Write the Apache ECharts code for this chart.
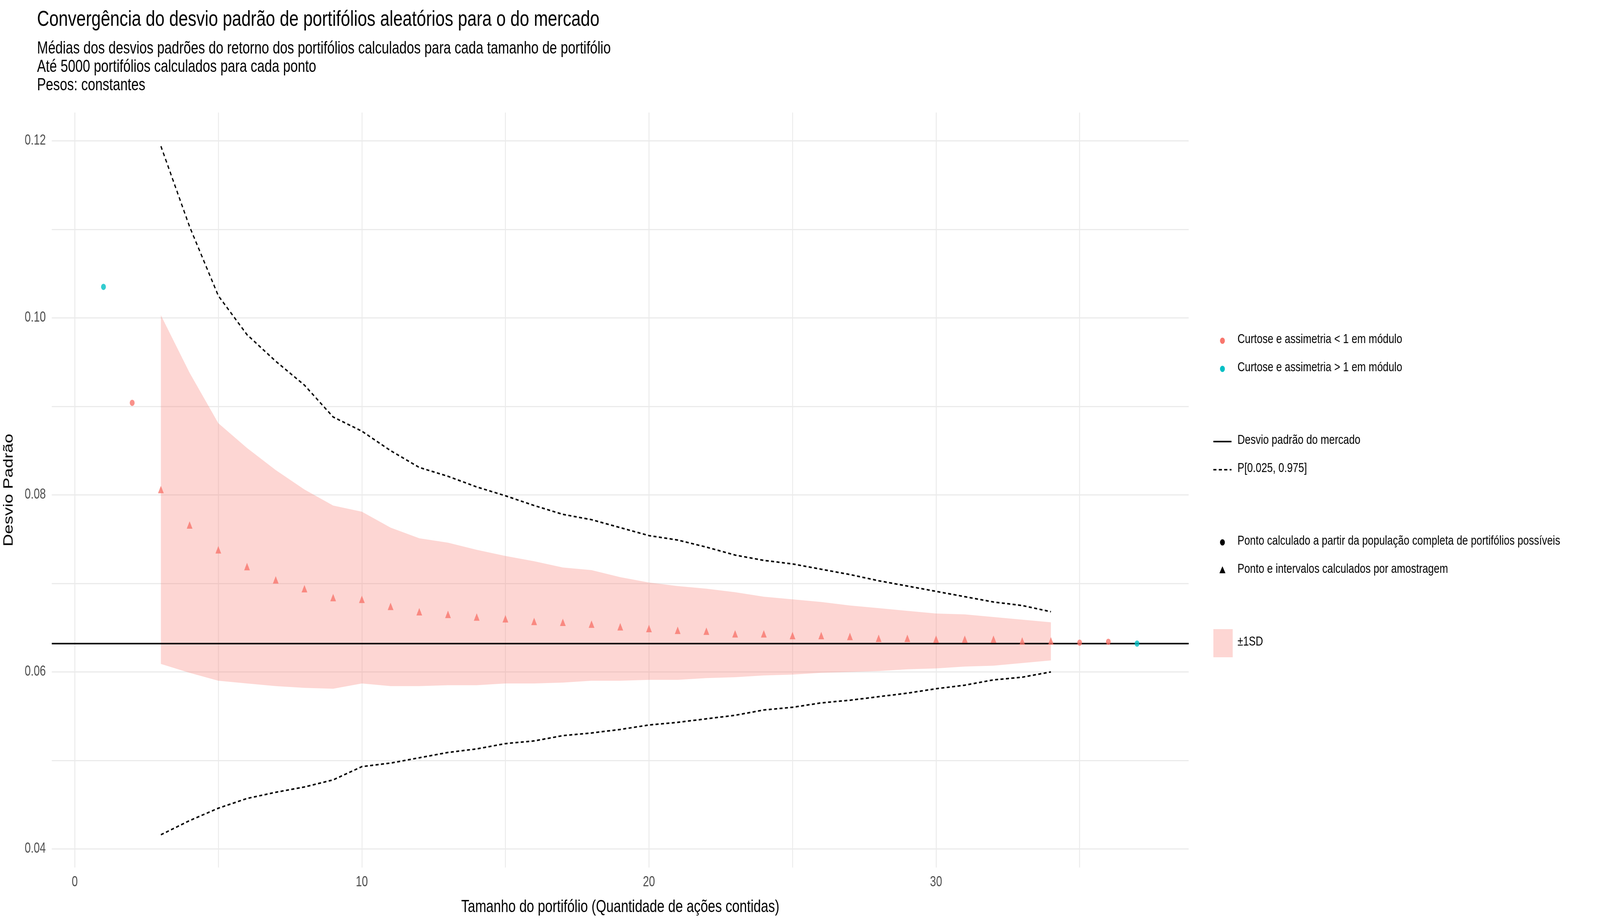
<!DOCTYPE html>
<html><head><meta charset="utf-8">
<script src="https://cdn.jsdelivr.net/npm/echarts@6/dist/echarts.min.js"></script>
<style>html,body{margin:0;padding:0;background:#fff;overflow:hidden}#chart{width:5314px;height:2362px;transform-origin:0 0}</style>
</head><body><div id="chart"></div>
<script>
const fullX = [2, 35, 36];
const fullY = [0.0904, 0.0633, 0.0634];
const fullTealX = [1, 37];
const fullTealY = [0.1035, 0.0632];
const sampX = [3,4,5,6,7,8,9,10,11,12,13,14,15,16,17,18,19,20,21,22,23,24,25,26,27,28,29,30,31,32,33,34];
const sampMean = [0.0806,0.0766,0.0738,0.0719,0.0704,0.0694,0.0684,0.0682,0.0674,0.0668,0.0665,0.0662,0.0660,0.0657,0.0656,0.0654,0.0651,0.0649,0.0647,0.0646,0.0643,0.0643,0.0641,0.0641,0.0640,0.0638,0.0638,0.0637,0.0637,0.0637,0.0635,0.0635];
const sdUpper = [0.1003,0.0938,0.0881,0.0853,0.0828,0.0806,0.0788,0.0781,0.0763,0.0751,0.0746,0.0738,0.0731,0.0725,0.0718,0.0715,0.0707,0.0701,0.0697,0.0694,0.0690,0.0685,0.0682,0.0679,0.0675,0.0672,0.0669,0.0666,0.0665,0.0662,0.0659,0.0656];
const sdLower = [0.0609,0.0599,0.0590,0.0587,0.0584,0.0582,0.0581,0.0587,0.0584,0.0584,0.0585,0.0585,0.0587,0.0587,0.0588,0.0590,0.0590,0.0591,0.0591,0.0593,0.0594,0.0596,0.0597,0.0599,0.0600,0.0601,0.0603,0.0604,0.0606,0.0607,0.0610,0.0613];
const p975 = [0.1194,0.1103,0.1025,0.0981,0.0951,0.0924,0.0888,0.0872,0.0850,0.0831,0.0821,0.0809,0.0799,0.0788,0.0778,0.0772,0.0763,0.0754,0.0749,0.0741,0.0732,0.0726,0.0722,0.0716,0.0710,0.0703,0.0697,0.0691,0.0685,0.0679,0.0675,0.0668];
const p025 = [0.0416,0.0432,0.0446,0.0457,0.0464,0.0470,0.0478,0.0493,0.0497,0.0503,0.0509,0.0513,0.0519,0.0522,0.0528,0.0531,0.0535,0.0540,0.0543,0.0547,0.0551,0.0557,0.0560,0.0565,0.0568,0.0572,0.0576,0.0581,0.0585,0.0591,0.0594,0.0600];
const marketSD = 0.0632;
const xTicks = [0,5,10,15,20,25,30,35];
const xLabels = [0,10,20,30];
const yTicks = [0.04,0.05,0.06,0.07,0.08,0.09,0.10,0.11,0.12];
const yLabels = [0.04,0.06,0.08,0.10,0.12];

const SALMON = '#F8766D', TEAL = '#00BFC4';
const F = 'Liberation Sans, Arial, sans-serif';
const pair = (xs, ys) => xs.map((x, i) => [x, ys[i]]);

// fit the 5314x2362 design into whatever viewport we get
const el = document.getElementById('chart');
const sx = window.innerWidth / 5314, sy = window.innerHeight / 2362;
el.style.transform = `scale(${sx}, ${sy})`;

const chart = echarts.init(el, null, { renderer: 'canvas', width: 5314, height: 2362 });

// legend drawn as graphics
const LX = 4030;
const legend = [];
function legText(y, t) { legend.push({ type: 'text', left: LX + 80, top: y - 20, style: { text: t, fontSize: 34, fontFamily: F, fill: '#000' } }); }
function legDot(y, c) { legend.push({ type: 'circle', shape: { cx: LX + 30, cy: y, r: 8 }, style: { fill: c } }); }
legDot(872, SALMON); legText(872, 'Curtose e assimetria < 1 em módulo');
legDot(944, TEAL); legText(944, 'Curtose e assimetria > 1 em módulo');
legend.push({ type: 'line', shape: { x1: LX, y1: 1130, x2: LX + 60, y2: 1130 }, style: { stroke: '#000', lineWidth: 4 } });
legText(1130, 'Desvio padrão do mercado');
legend.push({ type: 'line', shape: { x1: LX, y1: 1202, x2: LX + 60, y2: 1202 }, style: { stroke: '#000', lineWidth: 4, lineDash: [10, 8] } });
legText(1202, 'P[0.025, 0.975]');
legend.push({ type: 'circle', shape: { cx: LX + 30, cy: 1388, r: 8 }, style: { fill: '#000' } });
legText(1388, 'Ponto calculado a partir da população completa de portifólios possíveis');
legend.push({ type: 'polygon', shape: { points: [[LX + 30, 1449], [LX + 40, 1467], [LX + 20, 1467]] }, style: { fill: '#000' } });
legText(1460, 'Ponto e intervalos calculados por amostragem');
legend.push({ type: 'rect', shape: { x: LX, y: 1610, width: 64, height: 72 }, style: { fill: 'rgba(248,118,109,0.3)' } });
legText(1646, '±1SD');

const bandData = sampX.map((x, i) => [x, sdLower[i], sdUpper[i]]);

chart.setOption({
  animation: false,
  backgroundColor: '#fff',
  title: [
    { text: 'Convergência do desvio padrão de portifólios aleatórios para o do mercado', left: 118, top: 18, textStyle: { fontSize: 56, fontWeight: 'normal', fontFamily: F, color: '#000' } },
    { text: 'Médias dos desvios padrões do retorno dos portifólios calculados para cada tamanho de portifólio\nAté 5000 portifólios calculados para cada ponto\nPesos: constantes', left: 118, top: 96, textStyle: { fontSize: 44, lineHeight: 47, fontWeight: 'normal', fontFamily: F, color: '#000' } }
  ],
  grid: { left: 170, right: 1366, top: 288, bottom: 142 },
  xAxis: {
    type: 'value', min: -0.8, max: 38.8,
    name: 'Tamanho do portifólio (Quantidade de ações contidas)', nameLocation: 'middle', nameGap: 80,
    nameTextStyle: { fontSize: 44, fontFamily: F, color: '#000' },
    axisLine: { show: false },
    axisTick: { show: false, customValues: xTicks },
    axisLabel: { customValues: xLabels, fontSize: 36, fontFamily: F, color: '#4d4d4d', margin: 20 },
    splitLine: { show: true, lineStyle: { color: '#ebebeb', width: 3 } }
  },
  yAxis: {
    type: 'value', min: 0.0379, max: 0.1232,
    name: 'Desvio Padrão', nameLocation: 'middle', nameGap: 120,
    nameTextStyle: { fontSize: 44, fontFamily: F, color: '#000' },
    axisLine: { show: false },
    axisTick: { show: false, customValues: yTicks },
    axisLabel: { customValues: yLabels, fontSize: 36, fontFamily: F, color: '#4d4d4d', margin: 20, formatter: v => v.toFixed(2) },
    splitLine: { show: true, lineStyle: { color: '#ebebeb', width: 3 } }
  },
  series: [
    {
      type: 'custom', data: bandData, silent: true, z: 1,
      renderItem: (params, api) => {
        if (params.dataIndex !== 0) return null;
        const top = bandData.map(d => api.coord([d[0], d[2]]));
        const bot = bandData.map(d => api.coord([d[0], d[1]])).reverse();
        return { type: 'polygon', shape: { points: top.concat(bot) }, style: { fill: 'rgba(248,118,109,0.3)' } };
      }
    },
    { type: 'line', data: pair(sampX, p975), symbol: 'none', z: 3, lineStyle: { color: '#000', width: 4, type: [10, 8] } },
    { type: 'line', data: pair(sampX, p025), symbol: 'none', z: 3, lineStyle: { color: '#000', width: 4, type: [10, 8] } },
    { type: 'line', data: [[-0.8, marketSD], [38.8, marketSD]], symbol: 'none', z: 3, lineStyle: { color: '#000', width: 4 } },
    { type: 'scatter', data: pair(sampX, sampMean), symbol: 'triangle', symbolSize: 19, z: 4, itemStyle: { color: SALMON } },
    { type: 'scatter', data: pair(fullX, fullY), symbol: 'circle', symbolSize: 16, z: 4, itemStyle: { color: SALMON } },
    { type: 'scatter', data: pair(fullTealX, fullTealY), symbol: 'circle', symbolSize: 16, z: 4, itemStyle: { color: TEAL } }
  ],
  graphic: legend
});
</script></body></html>
